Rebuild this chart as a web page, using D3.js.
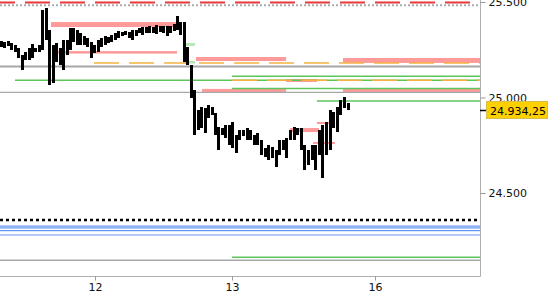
<!DOCTYPE html>
<html>
<head>
<meta charset="utf-8">
<script src="https://cdn.jsdelivr.net/npm/d3@7/dist/d3.min.js"></script>
<style>
body { margin: 0; background: #fff; }
svg { display: block; font-family: "DejaVu Sans", sans-serif; }
</style>
</head>
<body>
<svg id="chart"></svg>
<script>
// price bars, high / low of each period
var barHigh = [25296, 25291, 25296, 25285, 25275, 25259, 25223, 25238, 25259, 25280,
    25259, 25275, 25458, 25469, 25353, 25275, 25285, 25259, 25301, 25301,
    25364, 25364, 25353, 25338, 25322, 25312, 25291, 25275, 25301, 25312,
    25322, 25317, 25327, 25338, 25348, 25343, 25348, 25343, 25353, 25353,
    25364, 25369, 25369, 25374, 25369, 25380, 25374, 25374, 25374, 25374,
    25385, 25427, 25395, 25395, 25264, 25170, 25039, 24934, 24950, 24945,
    24961, 24950, 24919, 24846, 24840, 24856, 24856, 24872, 24804, 24830,
    24830, 24840, 24830, 24804, 24814, 24777, 24736, 24751, 24741, 24725,
    24777, 24777, 24788, 24830, 24846, 24840, 24840, 24751, 24725, 24751,
    24751, 24830, 24856, 24872, 24934, 24924, 24950, 24987, 25003, 24971];
var barLow = [25264, 25259, 25270, 25249, 25238, 25207, 25144, 25196, 25196, 25207,
    25238, 25238, 25249, 25301, 25065, 25076, 25186, 25170, 25144, 25223,
    25249, 25291, 25275, 25275, 25275, 25264, 25207, 25233, 25238, 25264,
    25275, 25285, 25291, 25301, 25312, 25322, 25327, 25312, 25301, 25322,
    25338, 25327, 25338, 25338, 25338, 25332, 25343, 25338, 25322, 25338,
    25348, 25353, 25327, 25186, 25170, 24997, 24804, 24830, 24840, 24814,
    24893, 24908, 24804, 24725, 24804, 24788, 24751, 24736, 24709, 24777,
    24798, 24777, 24777, 24751, 24751, 24699, 24688, 24673, 24683, 24636,
    24699, 24725, 24683, 24777, 24777, 24804, 24725, 24620, 24647, 24673,
    24620, 24699, 24579, 24699, 24725, 24840, 24819, 24908, 24945, 24934];
var barStart = 0.317;   // session days
var barStep = 0.0252;
var lastPrice = 24934.25;

var dayPos = [1, 2, 3];
var dayLabels = ["12", "13", "16"];
var priceTicks = [25500, 25000, 24500];

// horizontal levels (null = edge of chart)
var levelPrice = [25498, 25483, 25180, 25162, 25111, 25090, 25090, 25047, 25027, 24982,
    24359, 24327, 24317, 24303, 24280, 24163, 24148];
var levelFrom = [null, null, 0.993, null, 2.0, 0.416, 2.0, 2.0, null, 2.594,
    null, null, null, null, null, 2.0, null];
var levelTo = [null, null, null, null, null, null, null, null, null, null,
    null, null, null, null, null, null, null];
var levelKind = ["red", "dots", "orange", "grayThick", "green", "green", "orange", "green", "gray", "green",
    "black", "blue", "blue", "blue", "blue", "green", "gray"];

// zones
var zoneTop = [25395, 25243, 25212, 25207, 25097, 25045, 25047, 24872, 24840, 24767, 25285, 25191];
var zoneBottom = [25369, 25230, 25191, 25181, 25081, 25027, 25024, 24861, 24819, 24757, 25270, 25178];
var zoneFrom = [0.679, 0.708, 1.737, 2.776, 2.378, 1.781, 2.776, 2.594, 2.406, 2.566, 1.642, 1.642];
var zoneTo = [1.599, 1.599, 2.378, null, 2.594, 2.378, null, 2.720, 2.608, 2.720, 1.730, 1.730];
var zoneKind = ["sell", "sell", "sell", "sell", "sell", "sell", "sell", "sell", "sell", "sell", "buy", "buy"];

var lineStyle = {
    red: { stroke: "#e8393a", width: 2, dash: "25,10", offset: 10 },
    dots: { stroke: "#aaaaaa", width: 2, dash: "2,2", offset: 0 },
    orange: { stroke: "#f5b142", width: 1.5, dash: "25,10", offset: 0 },
    grayThick: { stroke: "#a8a8a8", width: 2, dash: null, offset: 0 },
    gray: { stroke: "#a8a8a8", width: 1.3, dash: null, offset: 0 },
    green: { stroke: "#5cc55c", width: 1.5, dash: null, offset: 0 },
    black: { stroke: "#000000", width: 2.5, dash: "3,3", offset: 0 },
    blue: { stroke: "#6a98f0", width: 1.2, dash: null, offset: 0 }
};
var zoneColor = { sell: "#ff9a9a", buy: "#b5e6b0" };

var width = 550, height = 300;
var plotW = 480, plotH = 276;

var fmt = d3.formatLocale({ decimal: ",", thousands: ".", grouping: [3], currency: ["", ""] });
var fmtTick = fmt.format(",.0f");
var fmtLast = fmt.format(",.2f");

var svg = d3.select("#chart")
    .attr("width", width)
    .attr("height", height);

var x = d3.scaleLinear()
    .domain(dayPos)
    .range([95, 232, 375]);

var y = d3.scaleLinear()
    .domain([24500, 25500])
    .range([193, 2]);

svg.append("clipPath").attr("id", "plot")
    .append("rect").attr("width", plotW).attr("height", plotH);

var plot = svg.append("g").attr("clip-path", "url(#plot)");

function xFrom(t) { return t == null ? 0 : x(t); }
function xTo(t) { return t == null ? plotW : x(t); }

// zones
plot.selectAll("rect.zone")
    .data(zoneTop)
    .enter()
    .append("rect")
    .attr("class", "zone")
    .attr("x", function (d, i) { return xFrom(zoneFrom[i]); })
    .attr("width", function (d, i) { return xTo(zoneTo[i]) - xFrom(zoneFrom[i]); })
    .attr("y", function (d) { return y(d); })
    .attr("height", function (d, i) { return y(zoneBottom[i]) - y(d); })
    .attr("fill", function (d, i) { return zoneColor[zoneKind[i]]; });

// levels
plot.selectAll("line.level")
    .data(levelPrice)
    .enter()
    .append("line")
    .attr("class", "level")
    .attr("x1", function (d, i) { return xFrom(levelFrom[i]); })
    .attr("x2", function (d, i) { return xTo(levelTo[i]); })
    .attr("y1", function (d) { return y(d); })
    .attr("y2", function (d) { return y(d); })
    .attr("stroke", function (d, i) { return lineStyle[levelKind[i]].stroke; })
    .attr("stroke-width", function (d, i) { return lineStyle[levelKind[i]].width; })
    .attr("stroke-dasharray", function (d, i) { return lineStyle[levelKind[i]].dash; })
    .attr("stroke-dashoffset", function (d, i) { return lineStyle[levelKind[i]].offset; });

// price bars
plot.selectAll("rect.bar")
    .data(barHigh)
    .enter()
    .append("rect")
    .attr("class", "bar")
    .attr("x", function (d, i) { return Math.round(x(barStart + i * barStep) - 1.5); })
    .attr("width", 3)
    .attr("y", function (d) { return y(d); })
    .attr("height", function (d, i) { return Math.max(1, y(barLow[i]) - y(d)); })
    .attr("fill", "#000")
    .attr("shape-rendering", "crispEdges");

// axes frame
svg.append("line")
    .attr("x1", plotW + 0.5).attr("x2", plotW + 0.5)
    .attr("y1", 0).attr("y2", plotH + 0.5)
    .attr("stroke", "#b0b0b0").attr("stroke-width", 1);
svg.append("line")
    .attr("x1", 0).attr("x2", plotW + 0.5)
    .attr("y1", plotH + 0.5).attr("y2", plotH + 0.5)
    .attr("stroke", "#b0b0b0").attr("stroke-width", 1);

// right axis
var yAxis = svg.append("g")
    .attr("transform", "translate(" + (plotW + 0.5) + ",0)")
    .call(d3.axisRight(y).tickValues(priceTicks).tickFormat(fmtTick).tickSize(5).tickPadding(3));
yAxis.select(".domain").remove();
yAxis.selectAll(".tick line").attr("stroke", "#999");
yAxis.selectAll("text")
    .attr("font-family", "DejaVu Sans")
    .attr("font-size", 11)
    .attr("fill", "#111");

// bottom axis
var xAxis = svg.append("g")
    .attr("transform", "translate(0," + (plotH + 0.5) + ")")
    .call(d3.axisBottom(x).tickValues(dayPos).tickFormat(function (d, i) { return dayLabels[i]; }).tickSize(4).tickPadding(3));
xAxis.select(".domain").remove();
xAxis.selectAll(".tick line").attr("stroke", "#999");
xAxis.selectAll("text")
    .attr("font-family", "DejaVu Sans")
    .attr("font-size", 11)
    .attr("fill", "#111");

// last price marker
var ly = Math.round(y(lastPrice)) + 0.5;
svg.append("line")
    .attr("x1", plotW).attr("x2", plotW + 6)
    .attr("y1", ly).attr("y2", ly)
    .attr("stroke", "#000").attr("stroke-width", 1.5);
svg.append("rect")
    .attr("x", plotW + 6.5).attr("y", ly - 9)
    .attr("width", 61).attr("height", 17)
    .attr("fill", "#ffd000")
    .attr("stroke", "#d9bd4a");
svg.append("text")
    .attr("x", plotW + 10).attr("y", ly + 4)
    .attr("font-size", 11)
    .attr("fill", "#000")
    .text(fmtLast(lastPrice));
</script>
</body>
</html>
